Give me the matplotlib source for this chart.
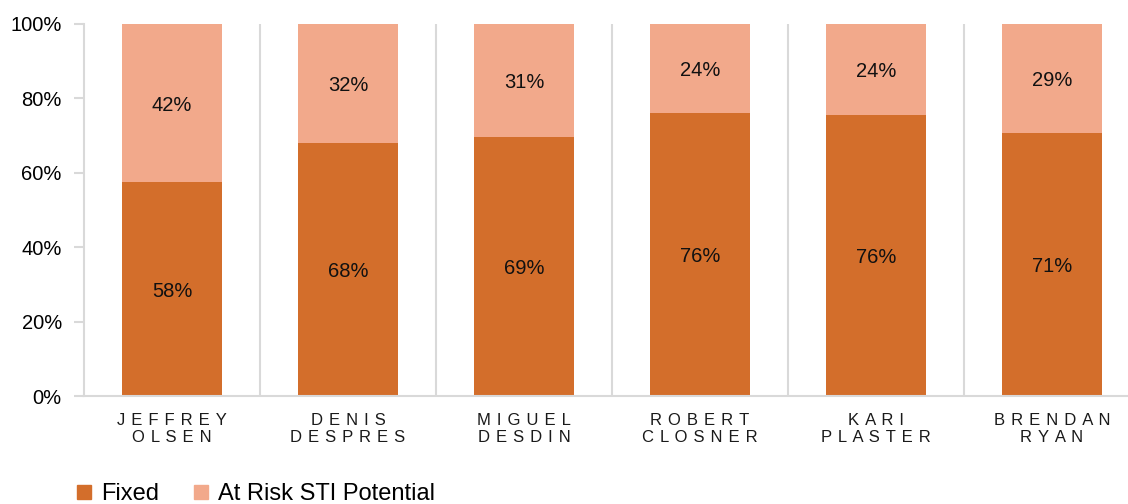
import matplotlib
matplotlib.use("Agg")
import matplotlib.pyplot as plt
from matplotlib.patches import Patch
import numpy as np

plt.rcParams['font.family'] = ['Liberation Sans', 'DejaVu Sans']

names = ["JEFFREY\nOLSEN", "DENIS\nDESPRES", "MIGUEL\nDESDIN",
         "ROBERT\nCLOSNER", "KARI\nPLASTER", "BRENDAN\nRYAN"]
fixed = [57.5, 68.0, 69.6, 76.1, 75.6, 70.7]
at_risk = [42.5, 32.0, 30.4, 23.9, 24.4, 29.3]
fixed_labels = ["58%", "68%", "69%", "76%", "76%", "71%"]
risk_labels = ["42%", "32%", "31%", "24%", "24%", "29%"]
yticks = [0, 20, 40, 60, 80, 100]

c_fixed = "#D36E2B"
c_risk = "#F2A98B"
grid_c = "#D9D9D9"

fig = plt.figure(figsize=(11.28, 5.04), dpi=100)
W, H = 1128, 504
ax = fig.add_axes([84 / W, (H - 396) / H, 1056 / W, 372 / H])

x = np.arange(len(names))
ax.bar(x, fixed, width=0.57, color=c_fixed, zorder=2)
ax.bar(x, at_risk, width=0.57, bottom=fixed, color=c_risk, zorder=2)

for i in range(len(names)):
    ax.text(x[i], fixed[i] / 2, fixed_labels[i], ha="center",
            va="center_baseline", fontsize=14.5, color="#111111", zorder=3)
    ax.text(x[i], fixed[i] + at_risk[i] / 2, risk_labels[i], ha="center",
            va="center_baseline", fontsize=14.5, color="#111111", zorder=3)

# separators
for b in np.arange(0.5, len(names), 1.0):
    ax.axvline(b, color=grid_c, lw=1.5, zorder=1)

ax.set_xlim(-0.5, len(names) - 0.5)
ax.set_ylim(0, 100)
ax.set_yticks(yticks)
ax.set_yticklabels([f"{v}%" for v in yticks], fontsize=14.5)

def spaced(s):
    return "\n".join(" \u200a".join(line) for line in s.split("\n"))

ax.set_xticks(x)
ax.set_xticklabels([spaced(n) for n in names], fontsize=12, linespacing=1.2,
                   color="#1a1a1a")
ax.tick_params(axis="x", length=0, pad=12)
ax.tick_params(axis="y", length=7, width=1.5, color=grid_c, pad=9)

for s in ["top", "right"]:
    ax.spines[s].set_visible(False)
for s in ["left", "bottom"]:
    ax.spines[s].set_color(grid_c)
    ax.spines[s].set_linewidth(1.5)

handles = [Patch(color=c_fixed, label="Fixed"),
           Patch(color=c_risk, label="At Risk STI Potential")]
fig.legend(handles=handles, loc="lower left", bbox_to_anchor=(56 / W, -0.045),
           ncol=2, frameon=False, fontsize=17, handlelength=0.6,
           handleheight=0.55, handletextpad=0.4, columnspacing=1.5)

fig.savefig("out.png", dpi=100)
